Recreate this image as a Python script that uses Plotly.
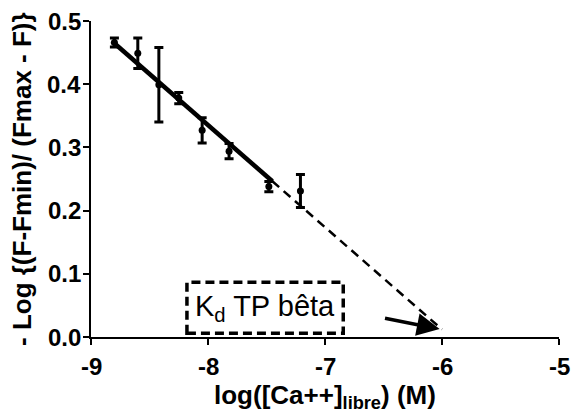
import plotly.graph_objects as go

# Data
log_ca = [-8.80, -8.60, -8.42, -8.25, -8.05, -7.82, -7.48, -7.21]
y_vals = [0.466, 0.449, 0.399, 0.378, 0.327, 0.294, 0.238, 0.231]
y_err = [0.007, 0.024, 0.059, 0.009, 0.020, 0.012, 0.008, 0.026]

fit_solid_x = [-8.82, -7.45]
fit_solid_y = [0.468, 0.2465]
fit_dash_x = [-7.45, -6.0]
fit_dash_y = [0.2465, 0.012]

x_ticks = [-9, -8, -7, -6, -5]
y_ticks = [0.0, 0.1, 0.2, 0.3, 0.4, 0.5]
y_tick_text = ["0.0", "0.1", "0.2", "0.3", "0.4", "0.5"]

box_x = [-8.18, -6.844]
box_y = [0.006, 0.0865]
label_text = "K<sub>d</sub> TP bêta"
arrow_tip = (-6.02, 0.0125)
arrow_tail = (-6.50, 0.030)

x_title = "<b>log([Ca++]<sub>libre</sub>) (M)</b>"
y_title = "<b>- Log {(F-Fmin)/ (Fmax - F)}</b>"

FONT = "Liberation Sans, Arial, sans-serif"

fig = go.Figure()
fig.add_trace(go.Scatter(x=fit_dash_x, y=fit_dash_y, mode="lines",
                         line=dict(color="black", width=2.5, dash="9px,6px"),
                         showlegend=False, hoverinfo="skip"))
fig.add_trace(go.Scatter(x=fit_solid_x, y=fit_solid_y, mode="lines",
                         line=dict(color="black", width=4.5),
                         showlegend=False, hoverinfo="skip"))
fig.add_trace(go.Scatter(x=log_ca, y=y_vals, mode="markers",
                         marker=dict(color="black", size=7),
                         error_y=dict(type="data", array=y_err, color="black",
                                      thickness=3, width=4.5),
                         showlegend=False))

fig.add_shape(type="rect", x0=box_x[0], x1=box_x[1], y0=box_y[0], y1=box_y[1],
              xref="x", yref="y", line=dict(color="black", width=3.5, dash="9px,5px"),
              layer="above")
fig.add_annotation(x=(box_x[0] + box_x[1]) / 2, y=(box_y[0] + box_y[1]) / 2,
                   xref="x", yref="y", text=label_text, showarrow=False,
                   font=dict(family=FONT, size=29, color="black"))
fig.add_annotation(x=arrow_tip[0], y=arrow_tip[1], ax=arrow_tail[0], ay=arrow_tail[1],
                   xref="x", yref="y", axref="x", ayref="y", text="",
                   showarrow=True, arrowhead=2, arrowsize=1.3, arrowwidth=3.5,
                   arrowcolor="black", standoff=0)

# axis titles as annotations (positioned like the reference)
fig.add_annotation(x=0.5, y=0, xref="paper", yref="paper", yshift=-59,
                   xanchor="center", yanchor="middle", text=x_title, showarrow=False,
                   font=dict(family=FONT, size=26, color="black"))
fig.add_annotation(x=0, y=0.5, xref="paper", yref="paper", xshift=-69,
                   xanchor="center", yanchor="middle", textangle=-90, text=y_title,
                   showarrow=False, font=dict(family=FONT, size=26, color="black"))

# tick labels as annotations so their size is under control
for v in x_ticks:
    fig.add_annotation(x=v, y=0, xref="x", yref="paper", yshift=-29,
                       xanchor="center", yanchor="middle", text="<b>%d</b>" % v,
                       showarrow=False, font=dict(family=FONT, size=24, color="black"))
for v, t in zip(y_ticks, y_tick_text):
    fig.add_annotation(x=0, y=v, xref="paper", yref="y", xshift=-8,
                       xanchor="right", yanchor="middle", text="<b>%s</b>" % t,
                       showarrow=False, font=dict(family=FONT, size=24, color="black"))

fig.update_layout(
    width=573, height=416,
    margin=dict(l=91, r=14, t=21, b=79),
    plot_bgcolor="white", paper_bgcolor="white",
    font=dict(family=FONT, color="black"),
    xaxis=dict(range=[-9, -5], tickvals=x_ticks, showticklabels=False,
               showgrid=False, zeroline=False, showline=True, linecolor="black",
               linewidth=1.5, ticks="outside", ticklen=6, tickwidth=1.5, tickcolor="black"),
    yaxis=dict(range=[0, 0.5], tickvals=y_ticks, showticklabels=False,
               showgrid=False, zeroline=False, showline=True, linecolor="black",
               linewidth=1.5, ticks="outside", ticklen=6, tickwidth=1.5, tickcolor="black"),
)

fig.write_html("out.html")
